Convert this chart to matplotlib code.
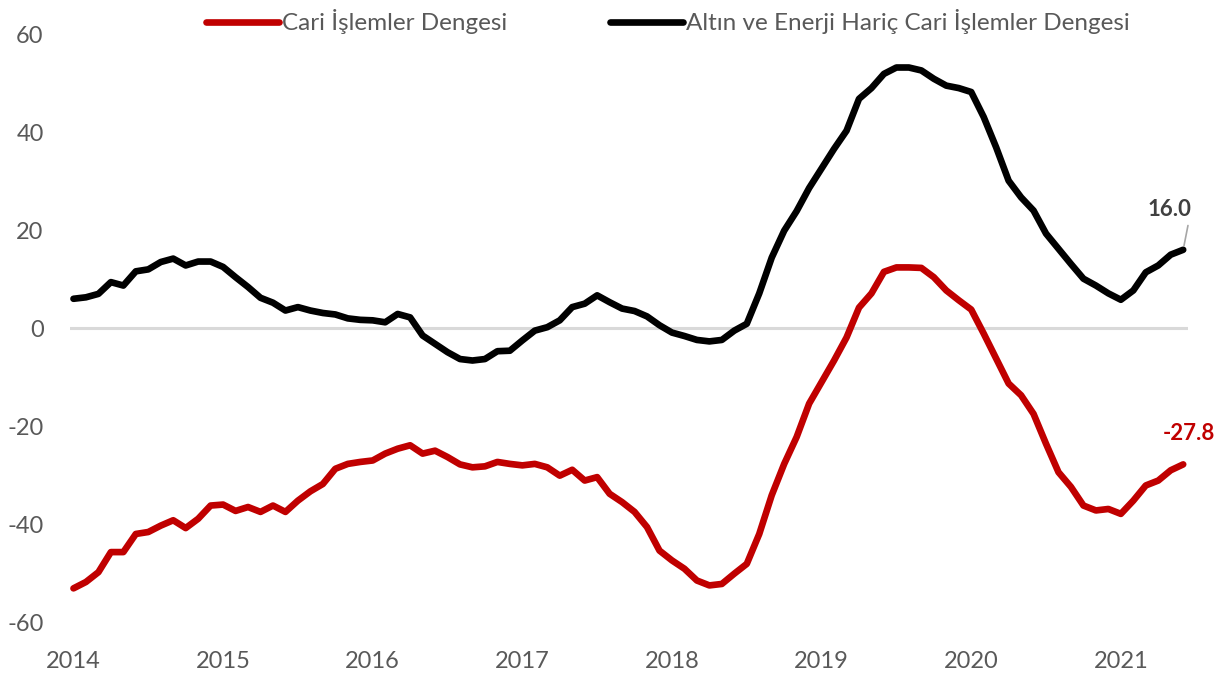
import matplotlib
matplotlib.use("Agg")
import matplotlib.pyplot as plt
import numpy as np

# ── Data (monthly, Jan 2014 – Jun 2021, 12-month rolling, bn USD) ─────────────

years = ["2014", "2015", "2016", "2017", "2018", "2019", "2020", "2021"]

cari = [
    -53.1, -51.8, -49.8, -45.7, -45.7, -42.0, -41.6, -40.3, -39.2, -40.8, -38.9, -36.2,
    -36.0, -37.3, -36.5, -37.5, -36.2, -37.5, -35.2, -33.3, -31.8, -28.7, -27.7, -27.3,
    -27.0, -25.6, -24.6, -23.9, -25.6, -25.0, -26.3, -27.8, -28.4, -28.2, -27.3, -27.7,
    -28.0, -27.7, -28.4, -30.1, -28.9, -31.1, -30.4, -33.8, -35.5, -37.5, -40.6, -45.4,
    -47.4, -49.1, -51.5, -52.5, -52.2, -50.1, -48.1, -42.0, -34.1, -27.7, -22.2, -15.4,
    -11.0, -6.6, -1.9, 4.2, 7.1, 11.5, 12.4, 12.4, 12.3, 10.4, 7.7, 5.7,
    3.8, -1.1, -6.2, -11.3, -13.7, -17.5, -23.6, -29.4, -32.4, -36.2, -37.2, -36.9,
    -37.9, -35.2, -32.1, -31.1, -29.0, -27.8,
]

altin_enerji_haric = [
    6.0, 6.3, 7.0, 9.4, 8.7, 11.6, 12.0, 13.5, 14.2, 12.8, 13.6, 13.6,
    12.5, 10.4, 8.4, 6.2, 5.2, 3.6, 4.3, 3.6, 3.1, 2.8, 2.0, 1.7,
    1.6, 1.2, 2.9, 2.2, -1.5, -3.2, -4.9, -6.3, -6.6, -6.3, -4.7, -4.6,
    -2.5, -0.5, 0.2, 1.6, 4.3, 5.0, 6.7, 5.3, 4.0, 3.5, 2.4, 0.6,
    -0.9, -1.6, -2.4, -2.7, -2.4, -0.5, 0.9, 7.1, 14.4, 19.9, 23.9, 28.6,
    32.6, 36.6, 40.3, 46.8, 49.0, 51.9, 53.2, 53.2, 52.6, 50.9, 49.5, 49.0,
    48.2, 43.1, 36.9, 30.1, 26.7, 24.0, 19.3, 16.2, 13.1, 10.1, 8.7, 7.1,
    5.8, 7.7, 11.4, 12.8, 15.0, 16.0,
]

yticks = [-60, -40, -20, 0, 20, 40, 60]

# ── Style ─────────────────────────────────────────────────────────────────────

RED   = "#C00000"
BLACK = "#000000"
TEXT  = "#595959"
ZERO  = "#D9D9D9"
FONT  = "Lato"

plt.rcParams["font.family"] = [FONT, "DejaVu Sans"]
plt.rcParams["axes.unicode_minus"] = False

x = np.arange(len(cari))

fig = plt.figure(figsize=(12.3, 6.77), dpi=100)
ax = fig.add_axes([0.057, 0.081, 0.909, 0.8685])

ax.axhline(0, color=ZERO, linewidth=2.2, zorder=1)
ax.plot(x, cari, color=RED, linewidth=4.8, solid_capstyle="round",
        solid_joinstyle="round", label="Cari İşlemler Dengesi", zorder=3)
ax.plot(x, altin_enerji_haric, color=BLACK, linewidth=4.8, solid_capstyle="round",
        solid_joinstyle="round", label="Altın ve Enerji Hariç Cari İşlemler Dengesi",
        zorder=3)

ax.set_xlim(-0.27, len(x) - 0.6)
ax.set_ylim(-60, 60)
ax.set_xticks(np.arange(0, len(x), 12))
ax.set_xticklabels(years)
ax.set_yticks(yticks)
ax.tick_params(axis="x", length=0, pad=21, labelsize=17, labelcolor=TEXT)
ax.tick_params(axis="y", length=0, pad=19, labelsize=17, labelcolor=TEXT)
for spine in ax.spines.values():
    spine.set_visible(False)

# last-value labels
ax.annotate(
    f"{altin_enerji_haric[-1]:.1f}",
    xy=(x[-1], altin_enerji_haric[-1]), xytext=(-10, 29),
    textcoords="offset points", ha="center", va="center",
    fontsize=16, fontweight="bold", color="#404040",
    arrowprops=dict(arrowstyle="-", color="#A6A6A6", lw=1.2,
                    relpos=(0.95, 0.0), shrinkA=2, shrinkB=3),
)
ax.annotate(
    f"{cari[-1]:.1f}",
    xy=(x[-1], cari[-1]), xytext=(4, 22),
    textcoords="offset points", ha="center", va="center",
    fontsize=16, fontweight="bold", color=RED,
)

fig.legend(
    loc="center", bbox_to_anchor=(0.543, 0.968), ncol=2, frameon=False,
    fontsize=17.5, labelcolor=TEXT, handlelength=3.0, handletextpad=0.15,
    columnspacing=4.2,
)

fig.savefig("out.png", dpi=100, facecolor="white")
plt.close(fig)
